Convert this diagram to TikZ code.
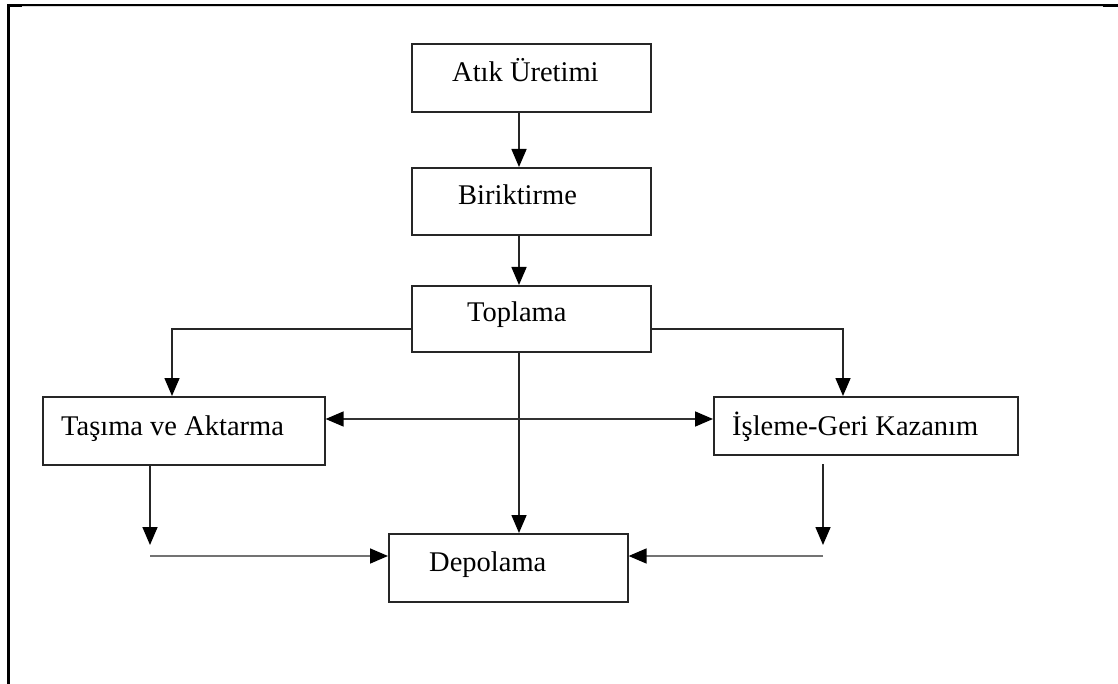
\documentclass[tikz,border=0pt]{standalone}
\usepackage{fontspec}
\setmainfont{Liberation Serif}
\usetikzlibrary{arrows.meta}
\begin{document}
\begin{tikzpicture}[x=1pt,y=-1pt,
  box/.style={draw=black!85,line width=1.6pt,rectangle,inner sep=0pt,anchor=north west},
  lbl/.style={anchor=base west,inner sep=0pt,font=\fontsize{28.5}{32}\selectfont,text=black},
  tip/.tip={Triangle[length=18pt,width=15pt,black]},
  arr/.style={line width=1.6pt,draw=black!85,-tip},
  garr/.style={line width=1.6pt,draw=black!55,-tip},
  frame/.style={draw=black,line cap=butt}]
\useasboundingbox (0,0) rectangle (1118,684);
% frame
\draw[frame,line width=1.6pt] (8,5) -- (1103,5);
\draw[draw=black!15,line width=1pt] (22,7) -- (1103,7);
\draw[frame,line width=2.6pt] (1103,5.3) -- (1118,5.3);
\draw[frame,line width=2.6pt] (8,5.3) -- (22,5.3);
\draw[frame,line width=3pt] (8.7,4) -- (8.7,684);
% boxes
\node[box,minimum width=239pt,minimum height=68pt] (a) at (411,43) {};
\node[box,minimum width=239pt,minimum height=67pt] (b) at (411,167) {};
\node[box,minimum width=239pt,minimum height=66pt] (t) at (411,285) {};
\node[box,minimum width=282pt,minimum height=68pt] (ta) at (42,396) {};
\node[box,minimum width=304pt,minimum height=58pt] (ig) at (713,396) {};
\node[box,minimum width=239pt,minimum height=68pt] (d) at (388,533) {};
% labels
\node[lbl] (la) at (452,82) {Atık Üretimi};
\node[lbl] (lb) at (458,205) {Biriktirme};
\node[lbl] (lt) at (467,322) {Toplama};
\node[lbl] (lta) at (61,435) {Taşıma ve Aktarma};
\node[lbl] (lig) at (732,435) {İşleme-Geri Kazanım};
\node[lbl] (ld) at (429,571) {Depolama};
% connectors
\draw[arr] (a.south -| 519,0) -- (b.north -| 519,0);
\draw[arr] (b.south -| 519,0) -- (t.north -| 519,0);
\draw[arr] (t.south -| 519,0) -- (d.north -| 519,0);
\draw[arr] (t.west |- 0,329) -| (ta.north -| 172,0);
\draw[arr] (t.east |- 0,329) -| (ig.north -| 843,0);
\draw[line width=1.6pt,draw=black!80,tip-tip] (ta.east |- 0,419) -- (ig.west |- 0,419);
\coordinate (c1) at (150,545);
\coordinate (c2) at (150,556);
\coordinate (c3) at (823,464);
\coordinate (c4) at (823,545);
\coordinate (c5) at (823,556);
\draw[arr] (ta.south -| c1) -- (c1);
\draw[arr] (c3) -- (c4);
\draw[garr] (c2) -- (d.west |- c2);
\draw[garr] (c5) -- (d.east |- c5);
\end{tikzpicture}
\end{document}
